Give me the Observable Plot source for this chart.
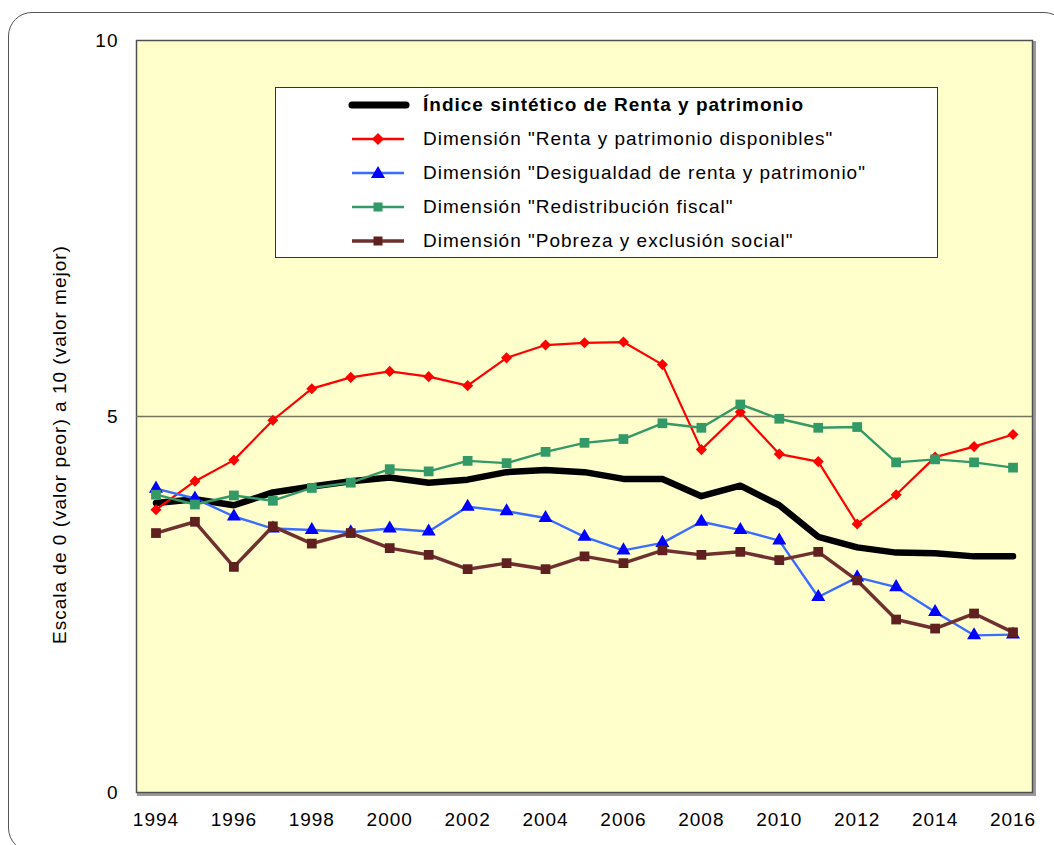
<!DOCTYPE html>
<html>
<head>
<meta charset="utf-8">
<script src="https://cdn.jsdelivr.net/npm/d3@7"></script>
<script src="https://cdn.jsdelivr.net/npm/@observablehq/plot@0.6"></script>
<style>
  html, body { margin: 0; padding: 0; background: #fff; overflow: hidden; }
  #wrap { position: relative; width: 1054px; height: 845px; overflow: hidden; font-family: "Liberation Sans", Arial, sans-serif; }
  #outer { position: absolute; left: 8px; top: 12px; width: 1060px; height: 840px; border: 1px solid #555; border-radius: 24px; box-sizing: border-box; }
  #chart { position: absolute; left: 0; top: 0; }
  #legend { position: absolute; left: 275px; top: 87px; width: 663px; height: 171px; box-sizing: border-box; background: #fff; border: 1px solid #333; }
  .row { position: absolute; left: 0; height: 24px; width: 100%; }
  .row svg { position: absolute; left: 72px; top: 0; }
  .row span { position: absolute; left: 147px; top: 0; line-height: 24px; font-size: 19px; letter-spacing: 1px; color: #000; white-space: nowrap; }
</style>
</head>
<body>
<div id="wrap">
  <div id="outer"></div>
  <div id="chart"></div>
  <div id="legend"></div>
</div>
<script>
// ---- data ----
const years = [1994,1995,1996,1997,1998,1999,2000,2001,2002,2003,2004,2005,2006,2007,2008,2009,2010,2011,2012,2013,2014,2015,2016];
const tickYears = [1994,1996,1998,2000,2002,2004,2006,2008,2010,2012,2014,2016];
const yTicks = [0, 5, 10];
const indice = [3.85,3.90,3.82,3.99,4.07,4.14,4.19,4.12,4.16,4.26,4.29,4.26,4.17,4.17,3.94,4.08,3.82,3.40,3.26,3.19,3.18,3.14,3.14];
const renta = [3.76,4.14,4.42,4.95,5.37,5.52,5.60,5.53,5.41,5.78,5.95,5.98,5.99,5.69,4.56,5.06,4.50,4.40,3.57,3.96,4.46,4.60,4.76];
const desigualdad = [4.04,3.91,3.67,3.51,3.49,3.46,3.51,3.47,3.80,3.74,3.65,3.40,3.22,3.32,3.60,3.49,3.35,2.60,2.86,2.73,2.40,2.09,2.10];
const redistribucion = [3.96,3.83,3.95,3.88,4.05,4.12,4.30,4.27,4.41,4.38,4.53,4.65,4.70,4.91,4.85,5.16,4.97,4.85,4.86,4.39,4.43,4.39,4.32];
const pobreza = [3.45,3.60,3.00,3.54,3.31,3.45,3.25,3.16,2.97,3.05,2.97,3.14,3.05,3.22,3.16,3.20,3.09,3.20,2.82,2.30,2.18,2.38,2.13];
const seriesNames = [
  "Índice sintético de Renta y patrimonio",
  "Dimensión \"Renta y patrimonio disponibles\"",
  "Dimensión \"Desigualdad de renta y patrimonio\"",
  "Dimensión \"Redistribución fiscal\"",
  "Dimensión \"Pobreza y exclusión social\""
];
const yLabel = "Escala de 0 (valor peor) a 10 (valor mejor)";

const toRows = (vals) => years.map((year, i) => ({year, value: vals[i]}));
const dIndice = toRows(indice), dRenta = toRows(renta), dDesig = toRows(desigualdad),
      dRedis = toRows(redistribucion), dPobreza = toRows(pobreza);

const C = {
  black: "#000000",
  red: "#FF0000",
  blueLine: "#3A6CFF", blueDot: "#0000FF",
  green: "#339966",
  brownLine: "#703030", brownDot: "#602020"
};

const chart = Plot.plot({
  width: 1054,
  height: 845,
  marginLeft: 136,
  marginRight: 22,
  marginTop: 40,
  marginBottom: 53,
  style: {fontFamily: "'Liberation Sans', Arial, sans-serif", fontSize: "19px", letterSpacing: "1px", color: "#000", background: "transparent", overflow: "visible"},
  x: {type: "point", domain: years, padding: 0.5, round: false},
  y: {domain: [0, 10]},
  marks: [
    Plot.frame({stroke: "#9a9a9a", strokeWidth: 3, dx: 2, dy: 2}),
    Plot.frame({fill: "#FFFFCC", stroke: "#505050", strokeWidth: 1.5}),
    Plot.ruleY([5], {stroke: "#76765f", strokeWidth: 1.5}),
    Plot.axisY({ticks: yTicks, tickSize: 0, tickPadding: 18, label: null, tickFormat: d => String(d), fontSize: 19}),
    Plot.axisX({ticks: tickYears, tickSize: 0, tickPadding: 20, label: null, tickFormat: d => String(d), fontSize: 19}),
    Plot.text([yLabel], {frameAnchor: "left", rotate: -90, dx: -77, dy: 28, fontSize: 19, textAnchor: "middle", lineAnchor: "middle"}),
    // Índice
    Plot.line(dIndice, {x: "year", y: "value", stroke: C.black, strokeWidth: 6.5, strokeLinejoin: "round", strokeLinecap: "round"}),
    // Renta
    Plot.line(dRenta, {x: "year", y: "value", stroke: C.red, strokeWidth: 2.2}),
    Plot.dot(dRenta, {x: "year", y: "value", symbol: "diamond2", r: 5, fill: C.red}),
    // Desigualdad
    Plot.line(dDesig, {x: "year", y: "value", stroke: C.blueLine, strokeWidth: 2.4}),
    Plot.dot(dDesig, {x: "year", y: "value", symbol: "triangle", r: 5.2, fill: C.blueDot}),
    // Redistribución
    Plot.line(dRedis, {x: "year", y: "value", stroke: C.green, strokeWidth: 2.4}),
    Plot.dot(dRedis, {x: "year", y: "value", symbol: "square", r: 5.5, fill: C.green}),
    // Pobreza
    Plot.line(dPobreza, {x: "year", y: "value", stroke: C.brownLine, strokeWidth: 3.5}),
    Plot.dot(dPobreza, {x: "year", y: "value", symbol: "square", r: 5.5, fill: C.brownDot})
  ]
});
document.getElementById("chart").appendChild(chart);

// ---- legend ----
const legend = document.getElementById("legend");
const swatches = [
  {line: C.black, lw: 7, marker: null, bold: true},
  {line: C.red, lw: 2.5, marker: "diamond", fill: C.red},
  {line: C.blueLine, lw: 2.5, marker: "triangle", fill: C.blueDot},
  {line: C.green, lw: 2.5, marker: "square", fill: C.green},
  {line: C.brownLine, lw: 3.5, marker: "square", fill: C.brownDot}
];
const rowCenters = [17, 51, 85, 119, 153];
swatches.forEach((s, i) => {
  const row = document.createElement("div");
  row.className = "row";
  row.style.top = (rowCenters[i] - 12) + "px";
  let m = "";
  if (s.marker === "diamond") m = `<path d="M30,6 L36,12 L30,18 L24,12 Z" fill="${s.fill}"/>`;
  if (s.marker === "triangle") m = `<path d="M30,5 L37,17 L23,17 Z" fill="${s.fill}"/>`;
  if (s.marker === "square") m = `<rect x="25.5" y="7.5" width="9" height="9" fill="${s.fill}"/>`;
  const cap = s.marker ? "butt" : "round";
  const x1 = 4, x2 = s.marker ? 56 : 58;
  row.innerHTML = `<svg width="62" height="24"><line x1="${x1}" y1="12" x2="${x2}" y2="12" stroke="${s.line}" stroke-width="${s.lw}" stroke-linecap="${cap}"/>${m}</svg>` +
    `<span style="font-weight:${s.bold ? "bold" : "normal"}">${seriesNames[i]}</span>`;
  legend.appendChild(row);
});
</script>
</body>
</html>
